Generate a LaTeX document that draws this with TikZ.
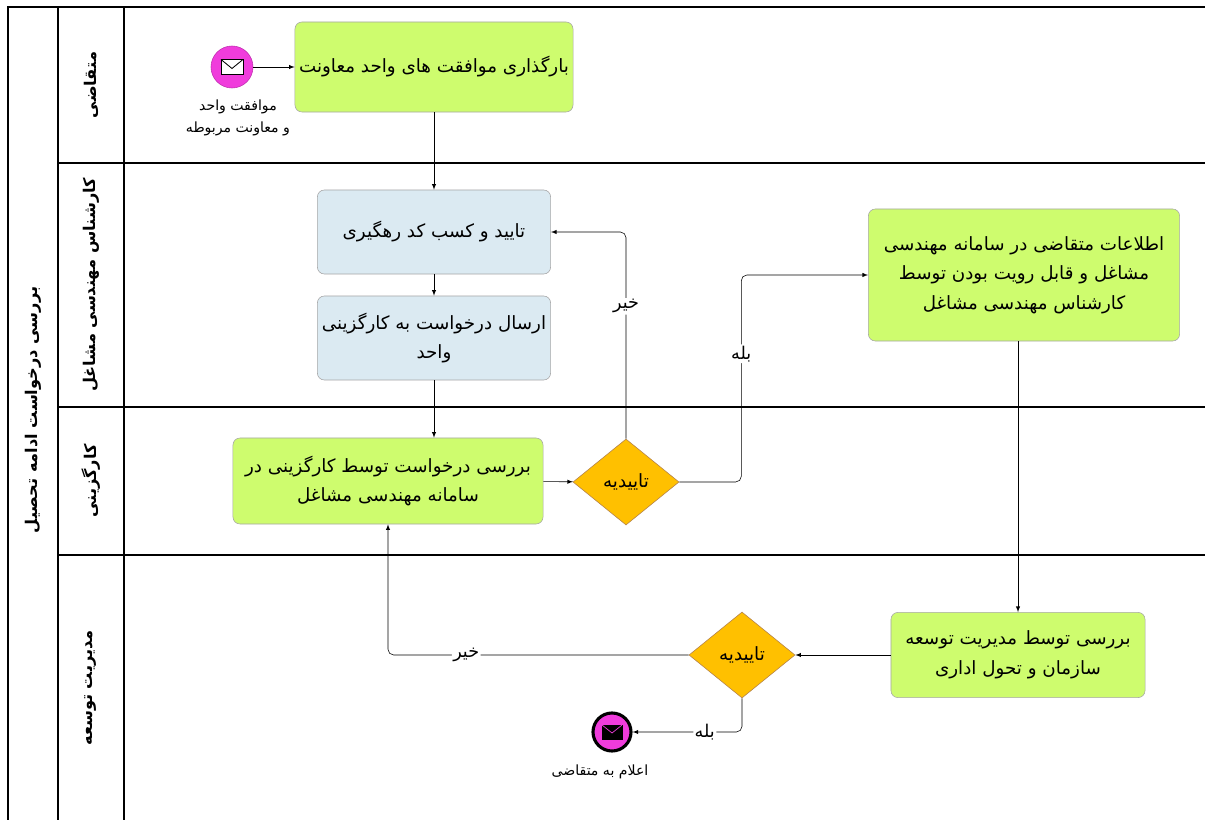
\documentclass[tikz,border=0pt]{standalone}
\usepackage{fontspec}
\usepackage{tikz}
\usetikzlibrary{arrows,shapes.geometric}
\newfontfamily\arabicfont[Script=Arabic]{DejaVu Sans}
\TeXXeTstate=1
\newcommand{\rtltext}[1]{\beginR #1\endR}

\definecolor{taskgreen}{RGB}{206,252,110}
\definecolor{taskblue}{RGB}{219,234,242}
\definecolor{gateorange}{RGB}{255,192,0}
\definecolor{eventpink}{RGB}{240,60,220}

\tikzset{
	task/.style={draw=gray!70, fill=taskgreen, rounded corners=5pt, align=center, inner sep=2pt,
		font=\arabicfont\fontsize{13}{21}\selectfont},
	subtask/.style={task, fill=taskblue},
	gateway/.style={diamond, draw=gray!60!orange, fill=gateorange, inner sep=0pt,
		minimum width=2.65cm, minimum height=2.15cm, font=\arabicfont\fontsize{13}{15}\selectfont},
	lanelabel/.style={rotate=90, font=\arabicfont\bfseries\fontsize{11.5}{14}\selectfont},
	flowlabel/.style={fill=white, inner sep=1pt, font=\arabicfont\fontsize{12.5}{14}\selectfont},
	eventlabel/.style={align=center, font=\arabicfont\fontsize{10}{16}\selectfont},
}

\begin{document}
\begin{tikzpicture}[x=0.025cm, y=-0.025cm, >=latex]
	\useasboundingbox (0, 0) rectangle (1205, 820);

	\draw[line width=1.2pt] (8, 820) -- (8, 7) -- (1205, 7);
	\draw[line width=1.2pt] (58, 7) -- (58, 820);
	\draw[line width=1.2pt] (124, 7) -- (124, 820);
	\foreach \y in {163, 407, 555}
		\draw[line width=1.2pt] (58, \y) -- (1205, \y);

	\node[lanelabel] (pool) at (33, 410) {\rtltext{بررسی درخواست ادامه تحصیل}};
	\node[lanelabel] (applicant) at (91, 85) {\rtltext{متقاضی}};
	\node[lanelabel] (expert) at (91, 285) {\rtltext{کارشناس مهندسی مشاغل}};
	\node[lanelabel] (hr) at (91, 481) {\rtltext{کارگزینی}};
	\node[lanelabel] (devmgmt) at (91, 688) {\rtltext{مدیریت توسعه}};

	\node[circle, fill=eventpink, draw=eventpink!80!black, minimum size=1.05cm, inner sep=0pt] (start) at (232, 67) {};
	\draw[fill=white, line width=0.6pt] ([shift={(-11, -7.5)}]start.center) rectangle ([shift={(11, 7.5)}]start.center);
	\draw[line width=0.6pt] ([shift={(-11, -7.5)}]start.center) -- ([shift={(0, 1.5)}]start.center) -- ([shift={(11, -7.5)}]start.center);
	\node[eventlabel] (startlabel) at (238, 118) {\rtltext{موافقت واحد}\\\rtltext{و معاونت مربوطه}};

	\node[task, minimum width=6.95cm, minimum height=2.25cm] (upload) at (434, 67) {\rtltext{بارگذاری موافقت های واحد معاونت}};
	\node[subtask, minimum width=5.83cm, minimum height=2.1cm] (confirm) at (434, 232) {\rtltext{تایید و کسب کد رهگیری}};
	\node[subtask, minimum width=5.83cm, minimum height=2.1cm] (send) at (434, 338) {\rtltext{ارسال درخواست به کارگزینی}\\\rtltext{واحد}};
	\node[task, minimum width=7.75cm, minimum height=2.15cm] (check) at (388, 481) {\rtltext{بررسی درخواست توسط کارگزینی در}\\\rtltext{سامانه مهندسی مشاغل}};
	\node[gateway] (approve1) at (626, 482) {\rtltext{تاییدیه}};
	\node[task, minimum width=7.78cm, minimum height=3.3cm] (info) at (1024, 275) {\rtltext{اطلاعات متقاضی در سامانه مهندسی}\\\rtltext{مشاغل و قابل رویت بودن توسط}\\\rtltext{کارشناس مهندسی مشاغل}};
	\node[task, minimum width=6.35cm, minimum height=2.13cm] (review) at (1018, 655) {\rtltext{بررسی توسط مدیریت توسعه}\\\rtltext{سازمان و تحول اداری}};
	\node[gateway] (approve2) at (742, 655) {\rtltext{تاییدیه}};

	\node[circle, fill=eventpink, draw=black, line width=2.2pt, minimum size=0.95cm, inner sep=0pt] (finish) at (612, 732) {};
	\draw[fill=black] ([shift={(-10, -7)}]finish.center) rectangle ([shift={(10, 7)}]finish.center);
	\draw[eventpink, line width=0.5pt] ([shift={(-10, -7)}]finish.center) -- ([shift={(0, 1)}]finish.center) -- ([shift={(10, -7)}]finish.center);
	\node[eventlabel] (finishlabel) at (600, 772) {\rtltext{اعلام به متقاضی}};

	\draw[->] (start) -- (upload);
	\draw[->] (upload) -- (confirm);
	\draw[->] (confirm) -- (send);
	\draw[->] (send.south) -- (send.south |- check.north);
	\draw[->] (check) -- (approve1);
	\draw[->, rounded corners=4pt] (approve1.north) |- node[flowlabel, pos=0.32] {\rtltext{خیر}} (confirm.east);
	\draw[->, rounded corners=4pt] (approve1.east) -- ++(62, 0) |- node[flowlabel, pos=0.31] {\rtltext{بله}} (info.west);
	\draw[->] (info.south -| review.north) -- (review.north);
	\draw[->] (review) -- (approve2);
	\draw[->, rounded corners=4pt] (approve2.west) -| node[flowlabel, pos=0.37] {\rtltext{خیر}} (check.south);
	\draw[->, rounded corners=4pt] (approve2.south) |- node[flowlabel, pos=0.67] {\rtltext{بله}} (finish.east);
\end{tikzpicture}
\end{document}
